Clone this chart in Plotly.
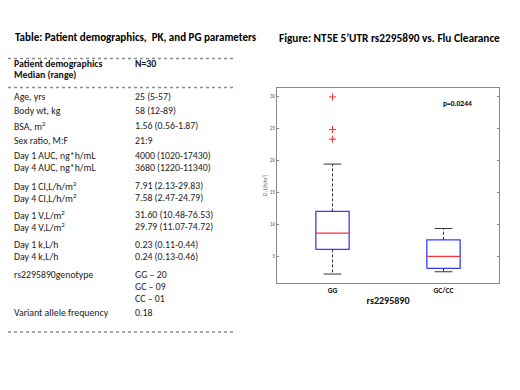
import plotly.graph_objects as go

# ---------------- data ----------------
groups = ["GG", "GC/CC"]
q1 = [6.05, 3.08]
median = [8.6, 4.95]
q3 = [12.0, 7.56]
lower_whisker = [2.2, 2.56]
upper_whisker = [19.4, 9.33]
outliers_gg = [29.9, 24.8, 23.3]
p_value_text = "p=0.0244"

y_ticks = [5, 10, 15, 20, 25, 30]

table_labels = ["Age, yrs", "Body wt, kg", "BSA, m<sup>2</sup>", "Sex ratio, M:F",
                "Day 1 AUC, ng*h/mL", "Day 4 AUC, ng*h/mL",
                "Day 1 Cl,L/h/m<sup>2</sup>", "Day 4 Cl,L/h/m<sup>2</sup>",
                "Day 1 V,L/m<sup>2</sup>", "Day 4 V,L/m<sup>2</sup>",
                "Day 1 k,L/h", "Day 4 k,L/h",
                "rs2295890genotype", "", "", "Variant allele frequency"]
table_values = ["25 (5-57)", "58 (12-89)", "1.56 (0.56-1.87)", "21:9",
                "4000 (1020-17430)", "3680 (1220-11340)",
                "7.91 (2.13-29.83)", "7.58 (2.47-24.79)",
                "31.60 (10.48-76.53)", "29.79 (11.07-74.72)",
                "0.23 (0.11-0.44)", "0.24 (0.13-0.46)",
                "GG – 20", "GC – 09", "CC – 01", "0.18"]

# ---------------- layout helpers ----------------
OFF = 8                 # default page body margin
W, H = 520 - 2 * OFF, 390 - 2 * OFF
row_px = [97, 111, 125.5, 140.5, 156, 167.5, 186, 198, 215, 227, 245, 257, 275, 287, 299, 313]
FONT = "Carlito, Lato, sans-serif"
BLUE = "#3b3bff"
RED = "#ff3030"
DARK = "#333333"


def px(x):
    return (x - OFF) / W


def py(y):
    return 1 - (y - OFF) / H


fig = go.Figure()

hw = 0.15   # half box width
cw = 0.08   # half cap width
for i, g in enumerate(groups):
    xc = i + 1
    fig.add_trace(go.Scatter(
        x=[xc - hw, xc + hw, xc + hw, xc - hw, xc - hw],
        y=[q1[i], q1[i], q3[i], q3[i], q1[i]],
        mode="lines", line=dict(color=BLUE, width=1.3), hoverinfo="skip", showlegend=False))
    fig.add_trace(go.Scatter(
        x=[xc - hw, xc + hw], y=[median[i], median[i]],
        mode="lines", line=dict(color=RED, width=1.3), hoverinfo="skip", showlegend=False))
    fig.add_trace(go.Scatter(
        x=[xc, xc, None, xc, xc], y=[q3[i], upper_whisker[i], None, q1[i], lower_whisker[i]],
        mode="lines", line=dict(color=DARK, width=1, dash="3px,2px"), hoverinfo="skip", showlegend=False))
    fig.add_trace(go.Scatter(
        x=[xc - cw, xc + cw, None, xc - cw, xc + cw],
        y=[upper_whisker[i], upper_whisker[i], None, lower_whisker[i], lower_whisker[i]],
        mode="lines", line=dict(color=DARK, width=1), hoverinfo="skip", showlegend=False))

fig.add_trace(go.Scatter(
    x=[1] * len(outliers_gg), y=outliers_gg, mode="markers",
    marker=dict(symbol="cross-thin", size=5, line=dict(color=RED, width=1), color=RED),
    hoverinfo="skip", showlegend=False))

fig.update_layout(
    width=W, height=H, margin=dict(l=0, r=0, t=0, b=0),
    paper_bgcolor="white", plot_bgcolor="white",
    font=dict(family=FONT, color="#111"),
    xaxis=dict(domain=[px(277), px(499)], range=[0.5, 2.5], tickvals=[1, 2], ticktext=groups,
               showgrid=False, zeroline=False, showline=True, linecolor="#8a8a8a", linewidth=1,
               mirror=True, ticks="", tickfont=dict(size=7.5, family=FONT, color="#111", weight="bold"),
               title=dict(text="<b>rs2295890</b>", font=dict(size=10, family=FONT, color="#111"), standoff=2)),
    yaxis=dict(domain=[py(283), py(88)], range=[0.8, 31.3], tickvals=y_ticks,
               showgrid=False, zeroline=False, showline=True, linecolor="#8a8a8a", linewidth=1,
               mirror="allticks", ticks="inside", ticklen=2, tickcolor="#8a8a8a",
               tickfont=dict(size=5, family=FONT, color="#555"),
               title=dict(text="Cl, L(h/m<sup>2</sup>)", font=dict(size=5, family=FONT, color="#555"), standoff=2)),
)

ann = []
ann.append(dict(x=px(13), y=py(37.5), text="<b>Table: Patient demographics,  PK, and PG parameters</b>",
                font=dict(size=11, family=FONT, color="#000")))
ann.append(dict(x=px(277), y=py(38), text="<b>Figure: NT5E 5’UTR rs2295890 vs. Flu Clearance</b>",
                font=dict(size=11.3, family=FONT, color="#000")))
ann.append(dict(x=px(12), y=py(64), text="<b>Patient demographics</b>", font=dict(size=9.8, family=FONT, color="#111")))
ann.append(dict(x=px(12), y=py(75.5), text="<b>Median (range)</b>", font=dict(size=9.8, family=FONT, color="#111")))
ann.append(dict(x=px(133), y=py(64), text="<b>N=30</b>", font=dict(size=9.8, family=FONT, color="#111")))
for lab, val, ry in zip(table_labels, table_values, row_px):
    if lab:
        ann.append(dict(x=px(12), y=py(ry), text=lab, font=dict(size=9.8, family=FONT, color="#222")))
    ann.append(dict(x=px(133), y=py(ry), text=val, font=dict(size=9.8, family=FONT, color="#222")))
for a in ann:
    a.update(xref="paper", yref="paper", xanchor="left", yanchor="middle", showarrow=False)

ann.append(dict(x=px(441), y=py(103), xref="paper", yref="paper", xanchor="left", yanchor="middle",
                showarrow=False, text="<b>" + p_value_text + "</b>", font=dict(size=7.5, family=FONT, color="#000")))
fig.update_layout(annotations=ann)

for ly, wd in [(58.5, 1.6), (87.5, 1.3), (332, 1.3)]:
    fig.add_shape(type="line", xref="paper", yref="paper", x0=px(8), x1=px(233), y0=py(ly), y1=py(ly),
                  line=dict(color="#8c8c8c", width=wd, dash="dot"))

fig.write_html("out.html")
